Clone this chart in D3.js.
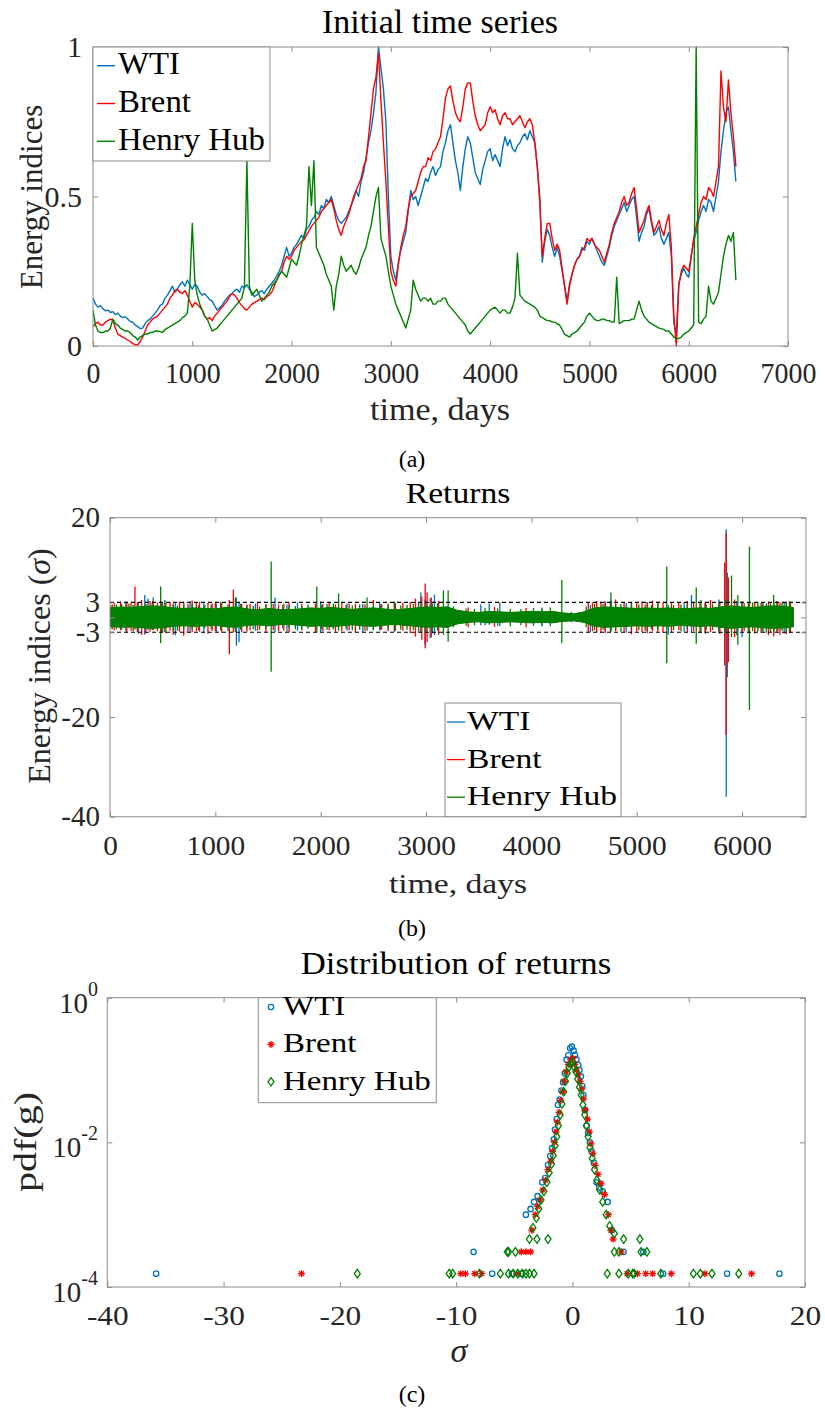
<!DOCTYPE html>
<html><head><meta charset="utf-8">
<script src="https://cdn.jsdelivr.net/npm/d3@7"></script>
<style>html,body{margin:0;padding:0;background:#fff;}svg{display:block;}</style>
</head><body>
<svg id="chart" width="825" height="1412"></svg>
<script>
// ---------------- DATA ----------------
const seriesNames = ["WTI", "Brent", "Henry Hub"];
const seriesColors = ["#0072BD", "#FF0000", "#008000"];

// Panel (a): normalised energy indices, one value every 25 days (20 values per 500 days per row)
const aDayStep = 25;
const wtiA = [
.16,.14,.13,.135,.125,.118,.12,.112,.115,.105,.11,.1,.095,.098,.09,.082,.08,.07,.065,.058,
.06,.075,.085,.09,.1,.11,.12,.135,.14,.16,.17,.185,.2,.18,.19,.205,.215,.2,.22,.205,
.19,.205,.2,.18,.17,.175,.165,.155,.15,.135,.12,.128,.135,.15,.16,.17,.175,.185,.19,.18,
.2,.195,.205,.19,.18,.165,.17,.18,.185,.175,.19,.2,.21,.22,.235,.25,.27,.3,.33,.3,
.31,.33,.34,.355,.37,.36,.39,.4,.42,.43,.45,.44,.47,.46,.49,.48,.5,.47,.44,.42,
.41,.42,.43,.45,.47,.49,.52,.5,.55,.58,.63,.68,.72,.78,.85,1.0,.93,.86,.75,.5,
.3,.25,.22,.28,.32,.35,.38,.45,.52,.49,.5,.47,.5,.53,.56,.55,.58,.6,.57,.59,
.6,.65,.68,.72,.74,.68,.62,.58,.52,.6,.66,.7,.68,.63,.58,.56,.54,.59,.62,.65,
.66,.62,.64,.62,.6,.66,.7,.67,.69,.66,.65,.67,.68,.7,.71,.69,.72,.7,.68,.6,
.5,.28,.35,.39,.37,.33,.3,.33,.3,.25,.2,.15,.21,.24,.27,.29,.3,.33,.32,.35,
.34,.36,.34,.32,.3,.28,.27,.3,.33,.37,.4,.42,.44,.46,.48,.45,.47,.49,.5,.43,
.35,.38,.4,.44,.46,.41,.37,.38,.4,.36,.34,.36,.38,.3,.08,.04,.21,.24,.26,.24,
.23,.3,.35,.38,.42,.45,.47,.45,.49,.48,.45,.5,.55,.65,.72,.78,.8,.72,.65,.55];
const brentA = [
.065,.075,.08,.07,.07,.08,.085,.09,.087,.06,.04,.035,.03,.025,.02,.015,.008,.005,.003,.015,
.03,.05,.07,.08,.09,.095,.1,.11,.12,.13,.14,.16,.17,.185,.19,.18,.175,.185,.17,.15,
.13,.145,.14,.13,.12,.1,.09,.095,.085,.1,.11,.12,.13,.14,.15,.165,.175,.17,.16,.145,
.135,.125,.12,.13,.14,.145,.15,.155,.16,.155,.165,.17,.18,.2,.22,.235,.25,.28,.3,.29,
.3,.32,.33,.34,.35,.355,.37,.385,.4,.41,.42,.43,.45,.46,.47,.48,.49,.46,.42,.39,
.37,.4,.42,.44,.47,.5,.52,.54,.56,.6,.62,.7,.78,.86,.9,.98,.82,.68,.55,.4,
.25,.22,.2,.27,.33,.37,.4,.46,.5,.51,.52,.55,.58,.6,.6,.63,.62,.65,.66,.68,
.7,.76,.83,.86,.87,.82,.78,.76,.75,.8,.86,.88,.88,.82,.77,.74,.72,.73,.74,.78,
.8,.78,.79,.76,.74,.77,.78,.76,.76,.74,.75,.76,.77,.75,.73,.75,.76,.74,.68,.6,
.48,.3,.36,.41,.41,.36,.32,.34,.32,.26,.2,.14,.2,.24,.27,.29,.3,.32,.33,.36,
.35,.36,.34,.33,.32,.3,.28,.31,.34,.38,.41,.43,.45,.48,.5,.47,.48,.51,.53,.46,
.38,.4,.42,.45,.47,.42,.38,.4,.42,.39,.37,.41,.44,.33,.1,0,.2,.25,.27,.26,
.25,.3,.36,.4,.44,.48,.5,.49,.53,.52,.5,.55,.6,.92,.8,.75,.89,.78,.7,.6];
const hhA = [
.12,.07,.05,.045,.045,.05,.05,.06,.09,.075,.07,.06,.055,.05,.05,.045,.035,.03,.02,.03,
.035,.04,.04,.045,.045,.05,.05,.048,.045,.055,.06,.065,.07,.075,.08,.085,.095,.1,.11,.2,
.41,.22,.17,.14,.12,.1,.09,.07,.05,.055,.06,.07,.08,.09,.1,.11,.12,.13,.14,.15,
.16,.2,.62,.2,.17,.18,.19,.17,.15,.16,.17,.18,.2,.21,.22,.24,.25,.24,.23,.26,
.29,.28,.27,.3,.34,.37,.4,.6,.47,.62,.33,.31,.29,.27,.24,.22,.2,.12,.2,.24,
.3,.27,.25,.26,.27,.25,.24,.26,.29,.31,.33,.37,.4,.45,.5,.53,.36,.33,.3,.25,
.2,.17,.14,.12,.1,.08,.06,.09,.12,.22,.19,.17,.15,.16,.16,.15,.16,.14,.14,.15,
.15,.16,.16,.14,.13,.12,.11,.1,.09,.08,.07,.05,.04,.05,.06,.07,.08,.09,.1,.11,
.12,.125,.13,.12,.11,.12,.12,.11,.11,.13,.16,.31,.17,.16,.15,.145,.14,.135,.13,.12,
.1,.095,.09,.085,.085,.08,.08,.075,.07,.055,.04,.035,.03,.04,.045,.05,.06,.07,.08,.1,
.11,.1,.09,.085,.085,.09,.09,.085,.085,.08,.08,.23,.075,.08,.085,.085,.085,.09,.09,.12,
.15,.12,.1,.09,.08,.075,.07,.065,.06,.058,.055,.05,.05,.04,.03,.025,.025,.03,.04,.045,
.05,.06,.07,1.0,.08,.075,.09,.1,.2,.15,.14,.16,.18,.24,.3,.34,.37,.35,.38,.22];
const aXTicks = [0,1000,2000,3000,4000,5000,6000,7000];
const aYTicks = [0,0.5,1];

// Panel (b): returns in sigma units. Envelope of the dense noise band, one row every 100 days
const retDays = [0,100,200,300,400,500,600,700,800,900,1000,1100,1200,1300,1400,1500,1600,1700,1800,1900,2000,2100,2200,2300,2400,2500,2600,2700,2800,2900,3000,3100,3200,3300,3400,3500,3600,3700,3800,3900,4000,4100,4200,4300,4400,4500,4600,4700,4800,4900,5000,5100,5200,5300,5400,5500,5600,5700,5800,5900,6000,6100,6200,6300,6400,6486];
const wtiRetHi = [1.8,2.0,1.9,2.1,2.2,2.1,1.8,1.7,1.8,1.7,1.6,1.9,2.0,1.6,1.4,1.7,1.5,1.4,1.6,1.8,1.7,1.9,1.7,1.5,1.7,1.8,1.6,1.4,1.6,1.8,2.0,1.9,2.0,1.3,1.0,0.9,1.1,1.0,0.9,1.0,1.1,1.0,1.1,0.8,0.6,1.0,1.8,2.0,1.9,1.8,1.7,1.8,1.7,1.8,1.6,1.7,1.8,1.7,2.0,2.2,2.0,1.9,2.1,2.2,2.1,1.9];
const wtiRetLo = [-1.7,-1.9,-1.8,-2.0,-2.1,-2.0,-1.7,-1.6,-1.7,-1.6,-1.5,-1.8,-1.9,-1.5,-1.4,-1.6,-1.4,-1.3,-1.5,-1.7,-1.6,-1.8,-1.6,-1.4,-1.6,-1.7,-1.5,-1.3,-1.5,-1.7,-1.9,-1.8,-1.9,-1.2,-0.9,-0.8,-1.0,-0.9,-0.8,-0.9,-1.0,-0.9,-1.0,-0.7,-0.6,-0.9,-1.7,-1.9,-1.8,-1.7,-1.6,-1.7,-1.6,-1.7,-1.5,-1.6,-1.7,-1.6,-1.9,-2.1,-1.9,-1.8,-2.0,-2.1,-2.0,-1.8];
const brentRetHi = [1.8,2.0,1.9,2.1,2.2,2.1,1.8,1.7,1.8,1.7,1.6,1.9,2.0,1.6,1.4,1.7,1.5,1.4,1.6,1.8,1.7,1.9,1.7,1.5,1.7,1.8,1.6,1.4,1.6,1.8,2.0,1.9,2.0,1.3,1.0,0.9,1.1,1.0,0.9,1.0,1.1,1.0,1.1,0.8,0.6,1.0,1.8,2.0,1.9,1.8,1.7,1.8,1.7,1.8,1.6,1.7,1.8,1.7,2.0,2.2,2.0,1.9,2.1,2.2,2.1,1.9];
const brentRetLo = [-1.7,-1.9,-1.8,-2.0,-2.1,-2.0,-1.7,-1.6,-1.7,-1.6,-1.5,-1.8,-1.9,-1.5,-1.4,-1.6,-1.4,-1.3,-1.5,-1.7,-1.6,-1.8,-1.6,-1.4,-1.6,-1.7,-1.5,-1.3,-1.5,-1.7,-1.9,-1.8,-1.9,-1.2,-0.9,-0.8,-1.0,-0.9,-0.8,-0.9,-1.0,-0.9,-1.0,-0.7,-0.6,-0.9,-1.7,-1.9,-1.8,-1.7,-1.6,-1.7,-1.6,-1.7,-1.5,-1.6,-1.7,-1.6,-1.9,-2.1,-1.9,-1.8,-2.0,-2.1,-2.0,-1.8];
const hhRetHi = [1.9,2.1,2.0,2.2,2.3,2.2,1.9,1.8,1.9,1.8,1.7,2.0,2.1,1.7,1.5,1.8,1.6,1.5,1.7,1.9,1.8,2.0,1.8,1.6,1.8,1.9,1.7,1.5,1.7,1.9,2.1,2.0,2.1,1.4,1.1,1.0,1.2,1.1,1.0,1.1,1.2,1.1,1.2,0.9,0.7,1.1,1.9,2.1,2.0,1.9,1.8,1.9,1.8,1.9,1.7,1.8,1.9,1.8,2.1,2.3,2.1,2.0,2.2,2.3,2.2,2.0];
const hhRetLo = [-1.8,-2.0,-1.9,-2.1,-2.2,-2.1,-1.8,-1.7,-1.8,-1.7,-1.6,-1.9,-2.0,-1.6,-1.5,-1.7,-1.5,-1.4,-1.6,-1.8,-1.7,-1.9,-1.7,-1.5,-1.7,-1.8,-1.6,-1.4,-1.6,-1.8,-2.0,-1.9,-2.0,-1.3,-1.0,-0.9,-1.1,-1.0,-0.9,-1.0,-1.1,-1.0,-1.1,-0.8,-0.7,-1.0,-1.8,-2.0,-1.9,-1.8,-1.7,-1.8,-1.7,-1.8,-1.6,-1.7,-1.8,-1.7,-2.0,-2.2,-2.0,-1.9,-2.1,-2.2,-2.1,-1.9];
// individual large returns [day, max, min]
const wtiSpikes = [[150,3.2,-2.8],[270,3.0,-3.3],[330,4.5,-3.5],[360,3.8,-2.6],[410,4.0,-2.5],[500,2.9,-3.0],[620,2.9,-3.6],[760,3.2,-2.9],[890,3.0,-3.2],[1010,2.8,-3.0],[1200,4.0,-5.7],[1225,3.0,-5.0],[1380,2.8,-2.7],[1567,4.0,-3.0],[1680,2.6,-2.9],[1780,3.0,-2.7],[2000,3.2,-3.0],[2250,2.8,-2.7],[2400,2.7,-3.0],[2560,3.0,-2.6],[2700,2.8,-2.9],[2950,5.0,-3.0],[2990,3.6,-5.5],[3040,3.8,-4.2],[3080,4.6,-3.6],[3520,2.6,-1.6],[3600,2.8,-1.5],[3700,3.0,-1.8],[4100,2.0,-1.8],[4560,2.5,-3.0],[4700,3.3,-2.8],[4760,3.3,-2.5],[4900,2.9,-3.1],[5100,3.1,-2.8],[5300,2.5,-3.5],[5450,3.0,-2.9],[5520,4.5,-3.0],[5650,2.9,-3.3],[5780,3.6,-3.2],[5850,17.7,-36.0],[5860,9.0,-12.0],[5950,3.3,-3.6],[6000,3.2,-4.0],[6200,3.0,-3.0],[6300,3.0,-3.5],[6400,2.9,-3.3]];
const brentSpikes = [[20,2.6,-2.4],[40,2.8,-2.6],[100,3.2,-2.6],[160,3.0,-3.1],[200,2.9,-2.7],[237,6.2,-2.5],[260,3.1,-3.0],[300,3.5,-3.5],[340,2.7,-3.2],[380,3.3,-2.9],[410,3.3,-2.6],[450,3.0,-2.8],[490,2.8,-3.0],[530,2.9,-3.2],[570,3.1,-2.7],[600,2.8,-3.5],[660,3.2,-2.9],[700,3.0,-3.7],[740,2.7,-3.1],[780,3.4,-3.0],[820,3.0,-2.8],[850,3.1,-2.9],[930,2.9,-3.3],[970,2.8,-2.7],[1000,3.0,-2.8],[1060,2.9,-3.1],[1133,3.5,-7.4],[1171,5.6,-3.0],[1250,2.8,-3.0],[1300,2.6,-2.9],[1330,2.7,-2.6],[1400,3.0,-2.7],[1480,2.7,-3.0],[1550,2.7,-2.6],[1600,2.6,-2.8],[1650,2.8,-2.7],[1700,3.0,-3.0],[1820,2.7,-2.6],[1950,2.8,-2.9],[2020,2.7,-2.8],[2080,2.9,-2.6],[2140,2.6,-2.9],[2200,2.9,-2.8],[2270,2.8,-2.6],[2330,2.7,-3.0],[2420,2.6,-2.7],[2500,3.5,-2.5],[2570,2.7,-2.6],[2640,2.8,-2.8],[2710,2.9,-2.7],[2780,3.0,-2.7],[2850,3.1,-3.2],[2900,3.8,-3.9],[2960,4.2,-4.5],[2992,6.8,-6.2],[3010,5.0,-5.0],[3050,4.0,-4.0],[3120,3.3,-3.5],[3400,2.0,-2.0],[3650,2.1,-1.9],[3950,1.9,-2.0],[4540,2.9,-3.0],[4580,3.0,-2.8],[4620,3.3,-3.0],[4660,2.9,-3.1],[4700,3.1,-3.2],[4750,3.2,-2.9],[4800,3.6,-2.8],[4880,3.0,-3.0],[4950,3.0,-3.4],[5000,3.1,-2.9],[5050,3.2,-3.0],[5100,3.0,-3.2],[5150,3.4,-2.8],[5200,3.2,-2.9],[5250,3.0,-3.1],[5330,2.9,-3.0],[5400,3.0,-2.6],[5480,3.3,-3.0],[5540,3.1,-2.8],[5600,2.9,-3.2],[5650,3.0,-3.1],[5700,3.5,-3.0],[5790,3.2,-3.4],[5835,11.0,-9.6],[5848,16.9,-23.6],[5870,8.0,-9.0],[5930,3.6,-4.0],[6000,3.2,-3.0],[6060,3.1,-3.2],[6120,3.0,-3.3],[6180,2.9,-3.1],[6250,3.0,-3.6],[6300,3.5,-3.8],[6330,3.3,-3.0],[6360,3.0,-3.5],[6420,3.2,-3.4],[6460,3.0,-3.2]];
const hhSpikes = [[20,2.4,-2.3],[60,2.6,-2.4],[110,2.7,-2.5],[180,2.8,-2.2],[220,2.5,-2.8],[260,2.5,-2.6],[330,2.6,-2.3],[400,3.0,-2.5],[481,6.2,-5.2],[520,3.5,-3.0],[600,2.5,-2.6],[640,2.4,-2.7],[700,2.6,-2.4],[780,2.7,-2.3],[840,2.4,-2.6],[900,2.5,-2.2],[960,2.6,-2.4],[1050,3.2,-2.6],[1120,2.6,-2.8],[1190,4.0,-3.0],[1240,2.7,-2.5],[1300,2.4,-2.2],[1360,2.3,-2.4],[1420,2.2,-2.5],[1480,2.5,-2.3],[1530,11.2,-10.9],[1640,2.5,-2.2],[1700,2.4,-2.2],[1760,2.3,-2.4],[1820,2.3,-2.5],[1880,2.6,-2.3],[1963,6.2,-3.0],[2010,2.5,-2.4],[2060,2.7,-2.5],[2120,2.8,-2.4],[2170,4.8,-2.7],[2240,2.5,-2.3],[2300,2.4,-2.6],[2370,2.6,-2.5],[2440,4.0,-2.7],[2500,2.4,-2.6],[2580,2.6,-2.4],[2640,2.5,-2.3],[2700,3.2,-2.8],[2760,2.4,-2.5],[2820,2.5,-2.5],[2880,2.7,-2.6],[2930,3.0,-2.9],[3000,3.2,-3.0],[3060,2.8,-3.2],[3110,2.9,-2.7],[3165,5.4,-3.5],[3210,5.4,-4.9],[3260,2.2,-2.0],[3380,1.8,-1.7],[3460,1.7,-1.6],[3560,1.9,-1.6],[3680,1.8,-1.7],[3800,1.7,-1.8],[3900,1.7,-1.6],[4020,1.9,-1.7],[4100,1.8,-1.7],[4180,2.0,-1.8],[4289,7.5,-5.2],[4380,1.1,-1.0],[4520,2.2,-2.0],[4600,2.8,-2.6],[4680,2.7,-2.5],[4755,5.0,-3.0],[4800,2.6,-2.4],[4850,2.7,-2.9],[4950,3.1,-2.6],[5020,2.6,-2.6],[5080,2.6,-2.7],[5140,2.5,-2.4],[5200,2.8,-2.5],[5285,10.2,-9.2],[5350,2.5,-2.6],[5420,2.6,-2.8],[5480,2.6,-2.4],[5565,6.0,-5.3],[5610,3.5,-3.0],[5660,2.6,-2.6],[5720,2.8,-2.6],[5780,2.8,-2.7],[5840,3.5,-3.2],[5900,8.4,-4.0],[5960,4.5,-5.5],[6020,2.9,-2.8],[6070,14.2,-18.6],[6100,3.0,-2.8],[6150,3.0,-2.9],[6190,2.9,-2.8],[6230,2.8,-3.1],[6270,3.0,-3.0],[6300,4.5,-2.8],[6340,2.9,-2.8],[6380,3.0,-2.7],[6420,3.0,-2.9],[6450,3.2,-3.0]];
const bXTicks = [0,1000,2000,3000,4000,5000,6000];
const bYTicks = [-40,-20,-3,0,3,20];
const bYLabels = {"-40":"-40","-20":"-20","-3":"-3","0":"","3":"3","20":"20"};
const sigmaBands = [-3, 3];

// Panel (c): pdf of returns [sigma, pdf]
const wtiPdf = [[-35.8,1.53e-4],[-8.5,3.06e-4],[-6.9,1.53e-4],[-5.2,1.53e-4],[-4.4,1.53e-4],[-4.0,1.0e-3],[-3.6,1.2e-3],[-3.3,1.5e-3],[-3.0,1.8e-3],[-2.6,2.8e-3],[-2.35,3.2e-3],[-2.1,4.9e-3],[-1.9,6.5e-3],[-1.75,8.3e-3],[-1.6,1.1e-2],[-1.5,1.5e-2],[-1.35,2.1e-2],[-1.25,3.3e-2],[-1.1,3.9e-2],[-0.95,5.2e-2],[-0.8,6.8e-2],[-0.65,9.0e-2],[-0.5,0.139],[-0.35,0.16],[-0.2,0.2],[-0.05,0.21],[0.1,0.185],[0.21,0.162],[0.35,0.14],[0.5,0.117],[0.6,0.1],[0.73,0.082],[0.85,0.06],[0.95,0.045],[1.07,0.028],[1.22,0.017],[1.35,0.0135],[1.5,0.01],[1.65,0.0075],[1.85,0.0052],[2.08,0.0028],[2.3,0.0024],[2.6,0.0021],[3.03,0.0015],[3.4,6.1e-4],[4.4,3.06e-4],[6.1,3.06e-4],[5.3,1.53e-4],[7.8,1.53e-4],[13.3,1.53e-4],[17.8,1.53e-4]];
const brentPdf = [[-23.3,1.53e-4],[-9.6,1.53e-4],[-9.2,1.53e-4],[-8.4,1.53e-4],[-7.8,1.53e-4],[-4.8,1.53e-4],[-4.4,3.06e-4],[-4.0,3.06e-4],[-3.6,3.06e-4],[-3.5,6.1e-4],[-3.2,1.0e-3],[-3.0,1.3e-3],[-2.8,1.6e-3],[-2.55,2.2e-3],[-2.3,3.0e-3],[-2.1,4.2e-3],[-1.85,5.5e-3],[-1.7,7.5e-3],[-1.55,1.0e-2],[-1.4,1.4e-2],[-1.3,1.9e-2],[-1.15,2.6e-2],[-1.0,3.8e-2],[-0.85,5.0e-2],[-0.7,7.0e-2],[-0.55,0.095],[-0.35,0.12],[-0.15,0.14],[0.05,0.145],[0.2,0.12],[0.35,0.1],[0.5,0.085],[0.65,0.07],[0.8,0.055],[0.95,0.04],[1.1,0.028],[1.3,0.021],[1.45,0.014],[1.6,0.0095],[1.75,0.007],[1.95,0.0048],[2.2,0.0036],[2.45,0.0027],[2.75,0.0019],[3.1,1.0e-3],[3.3,6.1e-4],[3.5,4.6e-4],[4.2,3.06e-4],[4.7,1.53e-4],[5.6,1.53e-4],[6.3,1.53e-4],[6.9,1.53e-4],[8.5,1.53e-4],[11.4,1.53e-4],[15.4,1.53e-4]];
const hhPdf = [[-18.5,1.53e-4],[-10.6,1.53e-4],[-10.3,1.53e-4],[-8.0,1.53e-4],[-6.2,1.53e-4],[-5.5,1.53e-4],[-5.1,1.53e-4],[-4.7,1.53e-4],[-4.3,1.53e-4],[-4.0,1.53e-4],[-3.7,1.53e-4],[-3.3,1.53e-4],[-5.6,3.06e-4],[-5.5,3.06e-4],[-4.9,3.06e-4],[-3.7,4.6e-4],[-3.05,4.6e-4],[-2.1,4.6e-4],[-3.4,6.6e-4],[-3.1,9e-4],[-2.9,1.2e-3],[-2.7,1.6e-3],[-2.45,2.1e-3],[-2.2,2.8e-3],[-2.0,3.8e-3],[-1.8,5.0e-3],[-1.65,6.6e-3],[-1.5,9.0e-3],[-1.35,1.2e-2],[-1.2,1.7e-2],[-1.05,2.4e-2],[-0.9,3.4e-2],[-0.75,5.0e-2],[-0.6,7.0e-2],[-0.45,0.09],[-0.3,0.11],[-0.15,0.12],[0.0,0.13],[0.15,0.11],[0.3,0.095],[0.45,0.075],[0.6,0.058],[0.75,0.045],[0.9,0.033],[1.05,0.024],[1.2,0.017],[1.35,0.012],[1.5,0.0085],[1.7,0.006],[1.9,0.0042],[2.1,0.003],[2.35,0.0022],[2.6,0.0015],[2.9,1.0e-3],[3.2,7e-4],[3.6,5.5e-4],[4.4,4.6e-4],[5.8,4.6e-4],[3.6,3.06e-4],[4.0,3.06e-4],[5.9,3.06e-4],[6.4,3.06e-4],[3.0,1.53e-4],[4.0,1.53e-4],[4.8,1.53e-4],[5.2,1.53e-4],[5.3,1.53e-4],[7.6,1.53e-4],[10.4,1.53e-4],[11.0,1.53e-4],[12.0,1.53e-4],[14.3,1.53e-4]];
const cXTicks = [-40,-30,-20,-10,0,10,20];
const cYTicks = [1, 1e-2, 1e-4];
const cYExp = ["0", "-2", "-4"];

// ---------------- DRAWING ----------------
const FONT = "'Liberation Serif','Times New Roman',serif";
const AXC = "#8c8c8c", TXC = "#262626";
const svg = d3.select("#chart").attr("font-family", FONT);
svg.append("rect").attr("width", 825).attr("height", 1412).attr("fill", "#fff");

function T(x, y, s, o) {
  let tr = `translate(${x},${y})`;
  if (o.rot) tr += ` rotate(${o.rot})`;
  if (o.sx) tr += ` scale(${o.sx},1)`;
  const t = svg.append("text").attr("transform", tr).attr("font-size", o.fs)
    .attr("text-anchor", o.anchor || "middle").attr("fill", o.fill || "#000");
  if (o.italic) t.attr("font-style", "italic");
  if (s !== null) t.text(s);
  return t;
}
function styleAxis(g, fs, sx) {
  g.select(".domain").remove();
  g.selectAll(".tick line").attr("stroke", AXC).attr("stroke-width", 1);
  g.selectAll("text").attr("font-size", fs).attr("font-family", FONT).attr("fill", TXC);
  if (sx) g.selectAll("text").attr("transform", `scale(${sx},1)`);
}
function frame(x, y) {
  const [x0, x1] = x.range(), [y0, y1] = y.range();
  svg.append("rect").attr("x", x0).attr("y", Math.min(y0, y1)).attr("width", x1 - x0)
    .attr("height", Math.abs(y0 - y1)).attr("fill", "none").attr("stroke", AXC).attr("stroke-width", 1);
}
function clip(id, x, y) {
  const [x0, x1] = x.range(), [y0, y1] = y.range();
  svg.append("clipPath").attr("id", id).append("rect").attr("x", x0).attr("y", Math.min(y0, y1) - 1)
    .attr("width", x1 - x0).attr("height", Math.abs(y0 - y1) + 2);
}
const plain = d => String(d);

// ===== Panel (a) =====
const xA = d3.scaleLinear().domain([0, 7000]).range([93, 788]);
const yA = d3.scaleLinear().domain([0, 1]).range([346, 47]);
clip("clipA", xA, yA);
const gA = svg.append("g").attr("clip-path", "url(#clipA)");
const lineA = d3.line().x((d, i) => xA(i * aDayStep)).y(d => yA(d));
[wtiA, brentA, hhA].forEach((s, i) => {
  gA.append("path").datum(s).attr("d", lineA).attr("fill", "none")
    .attr("stroke", seriesColors[i]).attr("stroke-width", 1.4).attr("stroke-linejoin", "round");
});
svg.append("g").attr("transform", "translate(0,346)")
  .call(d3.axisBottom(xA).tickValues(aXTicks).tickSize(-5).tickSizeOuter(0).tickPadding(16).tickFormat(plain))
  .call(g => styleAxis(g, 30, 0.93));
svg.append("g").attr("transform", "translate(0,47)")
  .call(d3.axisTop(xA).tickValues(aXTicks).tickSize(-5).tickSizeOuter(0).tickFormat(""))
  .call(g => styleAxis(g, 30));
svg.append("g").attr("transform", "translate(93,0)")
  .call(d3.axisLeft(yA).tickValues(aYTicks).tickSize(-5).tickSizeOuter(0).tickPadding(11).tickFormat(plain))
  .call(g => styleAxis(g, 30));
svg.append("g").attr("transform", "translate(788,0)")
  .call(d3.axisRight(yA).tickValues(aYTicks).tickSize(-5).tickSizeOuter(0).tickFormat(""))
  .call(g => styleAxis(g, 30));
frame(xA, yA);
T(440, 33, "Initial time series", {fs: 34});
T(440, 420, "time, days", {fs: 31, sx: 1.1, fill: TXC});
T(42, 197, "Energy indices", {fs: 31, rot: -90, fill: TXC});
T(412, 467, "(a)", {fs: 24});
svg.append("rect").attr("x", 93).attr("y", 47).attr("width", 177).attr("height", 114)
  .attr("fill", "#fff").attr("stroke", AXC);
seriesNames.forEach((n, i) => {
  const cy = 65.7 + i * 37.8;
  svg.append("line").attr("x1", 97).attr("x2", 115).attr("y1", cy).attr("y2", cy)
    .attr("stroke", seriesColors[i]).attr("stroke-width", 1.4);
  T(118, cy + 8.5, n, {fs: 31, anchor: "start", sx: 1.06});
});

// ===== Panel (b) =====
const xB = d3.scaleLinear().domain([0, 6607]).range([110, 806]);
const yB = d3.scaleLinear().domain([-40, 20]).range([816.7, 517.7]);
clip("clipB", xB, yB);
const gB = svg.append("g").attr("clip-path", "url(#clipB)");
const env = [[wtiRetHi, wtiRetLo, wtiSpikes], [brentRetHi, brentRetLo, brentSpikes], [hhRetHi, hhRetLo, hhSpikes]];
const areaB = d3.area().x(d => xB(d[0])).y0(d => yB(d[2])).y1(d => yB(d[1]));
env.forEach(([hi, lo, sp], i) => {
  const rows = retDays.map((t, k) => [t, hi[k], lo[k]]);
  gB.append("path").datum(rows).attr("d", areaB).attr("fill", seriesColors[i])
    .attr("stroke", seriesColors[i]).attr("stroke-width", 1);
  gB.selectAll(null).data(sp).enter().append("line")
    .attr("x1", d => xB(d[0])).attr("x2", d => xB(d[0]))
    .attr("y1", d => yB(d[1])).attr("y2", d => yB(d[2]))
    .attr("stroke", seriesColors[i]).attr("stroke-width", 1.3);
});
sigmaBands.forEach(v => {
  svg.append("line").attr("x1", xB.range()[0]).attr("x2", xB.range()[1]).attr("y1", yB(v)).attr("y2", yB(v))
    .attr("stroke", "#000").attr("stroke-width", 1.1).attr("stroke-dasharray", "4,3");
});
svg.append("g").attr("transform", "translate(0,816.7)")
  .call(d3.axisBottom(xB).tickValues(bXTicks).tickSize(-5).tickSizeOuter(0).tickPadding(18).tickFormat(plain))
  .call(g => styleAxis(g, 28, 1.05));
svg.append("g").attr("transform", "translate(0,517.7)")
  .call(d3.axisTop(xB).tickValues(bXTicks).tickSize(-5).tickSizeOuter(0).tickFormat(""))
  .call(g => styleAxis(g, 28));
svg.append("g").attr("transform", "translate(110,0)")
  .call(d3.axisLeft(yB).tickValues(bYTicks).tickSize(-5).tickSizeOuter(0).tickPadding(10).tickFormat(d => bYLabels[String(d)]))
  .call(g => styleAxis(g, 29));
svg.append("g").attr("transform", "translate(806,0)")
  .call(d3.axisRight(yB).tickValues(bYTicks).tickSize(-5).tickSizeOuter(0).tickFormat(""))
  .call(g => styleAxis(g, 29));
frame(xB, yB);
T(458, 503, "Returns", {fs: 29, sx: 1.16});
T(458, 893, "time, days", {fs: 28, sx: 1.2, fill: TXC});
{
  const t = T(50, 666, null, {fs: 32, rot: -90, fill: TXC});
  t.append("tspan").text("Energy indices (");
  t.append("tspan").attr("font-style", "italic").text("σ");
  t.append("tspan").text(")");
}
T(412, 936, "(b)", {fs: 24});
svg.append("rect").attr("x", 445).attr("y", 703).attr("width", 176).attr("height", 113.7)
  .attr("fill", "#fff").attr("stroke", AXC);
seriesNames.forEach((n, i) => {
  const cy = 722 + i * 37.6;
  svg.append("line").attr("x1", 447).attr("x2", 465).attr("y1", cy).attr("y2", cy)
    .attr("stroke", seriesColors[i]).attr("stroke-width", 1.3);
  T(467, cy + 8, n, {fs: 28, anchor: "start", sx: 1.2});
});

// ===== Panel (c) =====
const xC = d3.scaleLinear().domain([-40, 20]).range([107.3, 805]);
const yC = d3.scaleLog().domain([1e-4, 1]).range([1287, 997.7]);
const gC = svg.append("g");
function marker(g, kind, x, y, color) {
  if (kind === 0) {
    g.append("circle").attr("cx", x).attr("cy", y).attr("r", 2.7).attr("fill", "none")
      .attr("stroke", color).attr("stroke-width", 1.3);
  } else if (kind === 1) {
    const r = 3.5, p = `M${x - r},${y}H${x + r}M${x},${y - r}V${y + r}M${x - r * .7},${y - r * .7}L${x + r * .7},${y + r * .7}M${x - r * .7},${y + r * .7}L${x + r * .7},${y - r * .7}`;
    g.append("path").attr("d", p).attr("stroke", color).attr("stroke-width", 1.3).attr("fill", "none");
  } else {
    g.append("path").attr("d", `M${x},${y - 4.2}L${x + 3},${y}L${x},${y + 4.2}L${x - 3},${y}Z`)
      .attr("fill", "none").attr("stroke", color).attr("stroke-width", 1.3);
  }
}
[wtiPdf, brentPdf, hhPdf].forEach((s, i) => {
  s.forEach(d => marker(gC, i, xC(d[0]), yC(d[1]), seriesColors[i]));
});
svg.append("g").attr("transform", "translate(0,1287)")
  .call(d3.axisBottom(xC).tickValues(cXTicks).tickSize(-5).tickSizeOuter(0).tickPadding(18).tickFormat(plain))
  .call(g => styleAxis(g, 28, 1.12));
svg.append("g").attr("transform", "translate(0,997.7)")
  .call(d3.axisTop(xC).tickValues(cXTicks).tickSize(-5).tickSizeOuter(0).tickFormat(""))
  .call(g => styleAxis(g, 28));
svg.append("g").attr("transform", "translate(107.3,0)")
  .call(d3.axisLeft(yC).tickValues(cYTicks).tickSize(-5).tickSizeOuter(0).tickFormat(""))
  .call(g => styleAxis(g, 28));
svg.append("g").attr("transform", "translate(805,0)")
  .call(d3.axisRight(yC).tickValues(cYTicks).tickSize(-5).tickSizeOuter(0).tickFormat(""))
  .call(g => styleAxis(g, 28));
cYTicks.forEach((v, i) => {
  const t = svg.append("text").attr("x", 98).attr("y", yC(v) + 15).attr("text-anchor", "end")
    .attr("fill", TXC).attr("font-size", 29);
  t.append("tspan").text("10");
  t.append("tspan").attr("font-size", 20).attr("dy", -17).text(cYExp[i]);
});
frame(xC, yC);
T(456, 974, "Distribution of returns", {fs: 31, sx: 1.12});
T(459, 1362, "σ", {fs: 34, italic: true, fill: TXC});
T(36, 1142, "pdf(g)", {fs: 32, rot: -90, sx: 1.25, fill: TXC});
T(412, 1402, "(c)", {fs: 24});
svg.append("rect").attr("x", 258.3).attr("y", 997.7).attr("width", 178).attr("height", 105)
  .attr("fill", "#fff").attr("stroke", AXC);
seriesNames.forEach((n, i) => {
  const cy = 1007 + i * 37.4;
  marker(svg, i, 271, cy, seriesColors[i]);
  T(283, cy + 8, n, {fs: 28, anchor: "start", sx: 1.18});
});
</script>
</body></html>
